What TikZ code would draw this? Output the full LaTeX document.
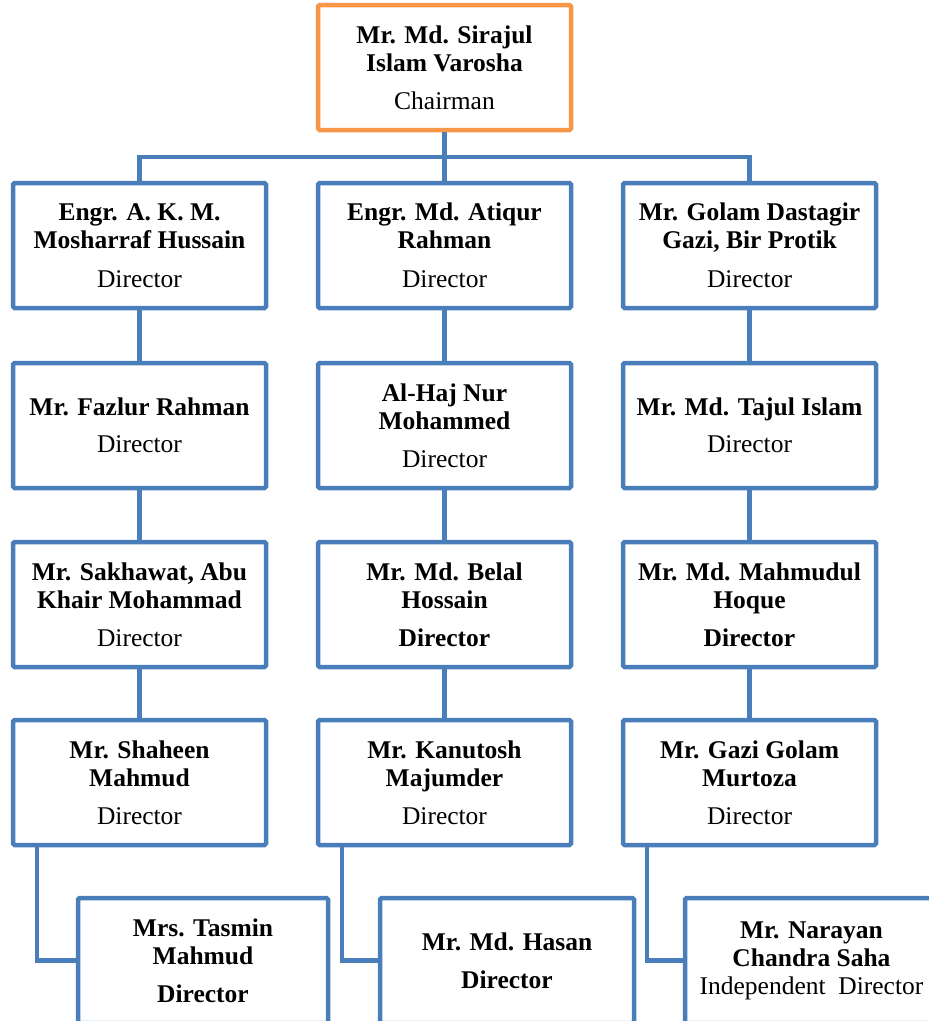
\documentclass[tikz,border=0pt]{standalone}
\usepackage{fontspec}
\setmainfont{Liberation Serif}
\usepackage{tikz}
\definecolor{boxBlue}{HTML}{4A7EBB}
\definecolor{chairOrange}{HTML}{F79646}
\tikzset{
  member/.style={draw=boxBlue, line width=4.5pt, rounded corners=1.5pt,
    minimum width=253pt, minimum height=125pt, inner sep=2pt,
    align=center, font=\fontsize{25.5}{28}\selectfont},
  chair box/.style={member, draw=chairOrange},
  link/.style={draw=boxBlue, line width=4.5pt},
}
\begin{document}
\begin{tikzpicture}[x=1pt,y=-1pt]
\useasboundingbox (0,0) rectangle (929,1021);
% chairman
\node[chair box] (chair) at (444.5,67.5) {\textbf{Mr. Md. Sirajul}\\\textbf{Islam Varosha}\\[10pt]Chairman};
% first row
\node[member] (L1) at (139.5,245.5) {\textbf{Engr. A. K. M.}\\\textbf{Mosharraf Hussain}\\[11pt]Director};
\node[member] (M1) at (444.5,245.5) {\textbf{Engr. Md. Atiqur}\\\textbf{Rahman}\\[11pt]Director};
\node[member] (R1) at (749.5,245.5) {\textbf{Mr. Golam Dastagir}\\\textbf{Gazi, Bir Protik}\\[11pt]Director};
% second row
\node[member] (L2) at (139.5,425.5) {\textbf{Mr. Fazlur Rahman}\\[9pt]Director};
\node[member] (M2) at (444.5,425.5) {\textbf{Al-Haj Nur}\\\textbf{Mohammed}\\[10pt]Director};
\node[member] (R2) at (749.5,425.5) {\textbf{Mr. Md. Tajul Islam}\\[9pt]Director};
% third row
\node[member] (L3) at (139.5,604.5) {\textbf{Mr. Sakhawat, Abu}\\\textbf{Khair Mohammad}\\[10pt]Director};
\node[member] (M3) at (444.5,604.5) {\textbf{Mr. Md. Belal}\\\textbf{Hossain}\\[10pt]\textbf{Director}};
\node[member] (R3) at (749.5,604.5) {\textbf{Mr. Md. Mahmudul}\\\textbf{Hoque}\\[10pt]\textbf{Director}};
% fourth row
\node[member] (L4) at (139.5,782.5) {\textbf{Mr. Shaheen}\\\textbf{Mahmud}\\[10pt]Director};
\node[member] (M4) at (444.5,782.5) {\textbf{Mr. Kanutosh}\\\textbf{Majumder}\\[10pt]Director};
\node[member] (R4) at (749.5,782.5) {\textbf{Mr. Gazi Golam}\\\textbf{Murtoza}\\[10pt]Director};
% last row, shifted right
\node[member, minimum width=250pt] (L5) at (203,960.5) {\textbf{Mrs. Tasmin}\\\textbf{Mahmud}\\[10pt]\textbf{Director}};
\node[member, minimum width=254pt] (M5) at (507,960.5) {\textbf{Mr. Md. Hasan}\\[10pt]\textbf{Director}};
\node[member] (R5) at (811.5,960.5) {\textbf{Mr. Narayan}\\\textbf{Chandra Saha}\\Independent~ Director};
% connectors
\coordinate (bus) at (444.5,157);
\draw[link] (chair) -- (M1);
\draw[link] (L1.north) |- (bus) -| (R1.north);
\foreach \c in {L,M,R} {
  \foreach \r/\s in {1/2,2/3,3/4} {
    \draw[link] (\c\r) -- (\c\s);
  }
  \draw[link] ([xshift=26pt]\c4.south west) |- (\c5.west);
}
\end{tikzpicture}
\end{document}
